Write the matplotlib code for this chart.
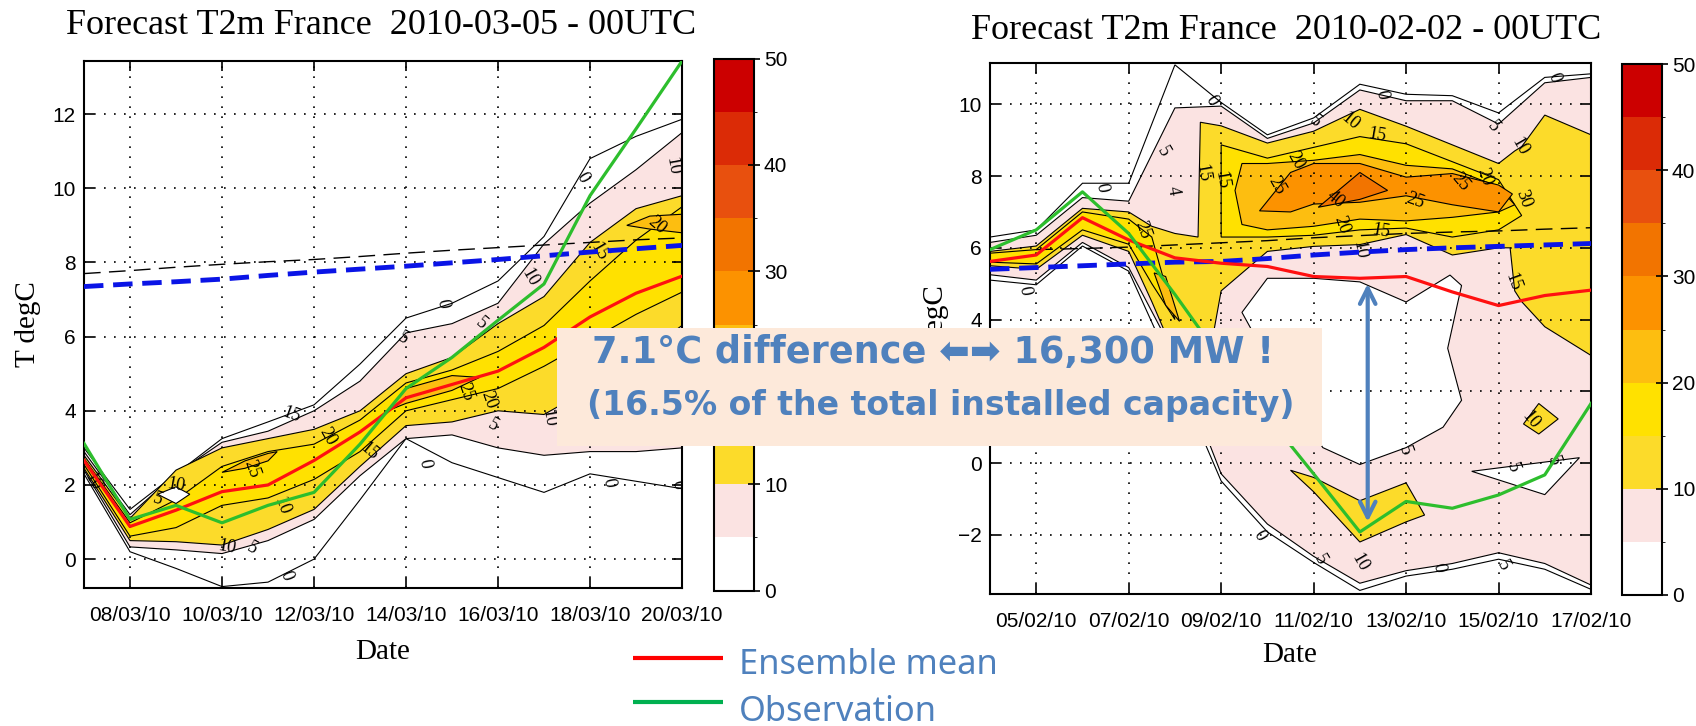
import numpy as np
import matplotlib
matplotlib.use("Agg")
import matplotlib.pyplot as plt
from matplotlib.colors import ListedColormap, BoundaryNorm
from matplotlib.lines import Line2D
from matplotlib.patches import Rectangle
from matplotlib.transforms import Bbox
import matplotlib as mpl

# ---------------- data: left panel (March 2010, day of month) ----------------
L_days = [7, 8, 9, 10, 11, 12, 13, 14, 15, 16, 17, 18, 19, 20]
L_mean = [2.66, 0.88, 1.32, 1.82, 2.0, 2.66, 3.43, 4.35, 4.71, 5.07, 5.71, 6.53, 7.17, 7.63]
L_obs = [3.12, 1.07, 1.45, 0.98, 1.45, 1.8, 3.1, 4.6, 5.44, 6.44, 7.42, 9.8, 11.6, 13.43]
L_clim = [7.35, 7.42, 7.48, 7.55, 7.65, 7.74, 7.82, 7.9, 7.99, 8.08, 8.18, 8.28, 8.37, 8.46]
L_clim2 = [7.7, 7.78, 7.87, 7.95, 8.02, 8.08, 8.16, 8.25, 8.33, 8.4, 8.47, 8.54, 8.61, 8.66]

L_p0_lo = [2.3, 0.2, -0.25, -0.74, -0.62, 0.0, 1.6, 3.25, 2.6, 2.2, 1.8, 2.3, 2.1, 1.9]
L_p0_hi = [3.0, 1.34, 2.3, 3.25, 3.7, 4.16, 5.26, 6.5, 6.9, 7.5, 8.7, 10.8, 11.4, 11.86]
L_p5_lo = [2.4, 0.33, 0.25, 0.15, 0.5, 1.07, 2.25, 3.25, 3.35, 3.0, 2.8, 2.9, 2.9, 3.0]
L_p5_hi = [2.9, 1.2, 2.3, 3.15, 3.45, 4.0, 4.8, 6.1, 6.35, 6.9, 8.5, 9.6, 10.5, 11.5]
L_p10_lo = [2.45, 0.5, 0.47, 0.38, 0.8, 1.34, 2.5, 3.6, 3.7, 4.0, 3.9, 4.6, 5.4, 6.3]
L_p10_hi = [2.8, 1.1, 2.4, 3.0, 3.25, 3.5, 4.0, 5.0, 5.44, 6.35, 7.08, 8.54, 9.45, 9.8]
L_p15_lo = [2.55, 0.62, 0.85, 1.45, 1.65, 2.15, 2.9, 4.0, 4.3, 4.6, 5.2, 5.9, 6.6, 7.2]
L_p15_hi = [2.72, 0.98, 1.6, 2.5, 2.9, 3.1, 3.75, 4.75, 5.1, 5.6, 6.3, 7.5, 8.6, 9.5]
L_p20a_days = [10.0, 10.5, 11.0, 11.2]
L_p20a_lo = [2.34, 2.45, 2.65, 2.9]
L_p20a_hi = [2.34, 2.65, 2.85, 2.9]
L_p20b_days = [13.6, 14.0, 15.0, 15.6]
L_p20b_lo = [4.0, 4.2, 4.55, 4.9]
L_p20b_hi = [4.0, 4.6, 4.95, 4.9]
L_p20c_days = [18.8, 19.3, 20.0]
L_p20c_lo = [9.0, 8.9, 8.8]
L_p20c_hi = [9.0, 9.25, 9.3]
L_hole_x = [8.6, 9.0, 9.3, 9.0]
L_hole_y = [1.75, 1.95, 1.75, 1.5]

L_lab_x = [14.8, 17.83, 11.4, 14.4, 18.4, 19.9, 13.93, 15.64, 15.9, 9.0, 10.1, 11.3, 17.1,
           16.7, 11.5, 15.3, 18.2, 19.8, 19.45, 10.65, 10.65, 8.6, 12.3, 13.2, 15.8, 7.2]
L_lab_y = [6.9, 10.3, -0.44, 2.57, 2.07, 2.0, 5.94, 6.35, 3.6, 2.0, 0.33, 1.43, 3.8,
           7.6, 3.9, 4.5, 8.3, 10.6, 9.0, 2.43, 0.3, 1.6, 3.3, 2.9, 4.3, 2.1]
L_lab_t = ["0", "0", "0", "0", "0", "0", "5", "5", "5", "10", "10", "10", "10",
           "10", "15", "25", "15", "10", "20", "25", "5", "5", "20", "15", "20", "10"]
L_lab_r = [-80, -60, -70, -80, -80, -80, -30, -40, -30, -10, -10, -70, -80,
           -60, -20, -70, -60, -80, -40, -70, -30, -20, -60, -40, -70, -60]

# ---------------- data: right panel (February 2010, day of month) ----------------
R_days = [4, 5, 6, 7, 8, 9, 10, 11, 12, 13, 14, 15, 16, 17]
R_mean = [5.62, 5.8, 6.84, 6.22, 5.72, 5.57, 5.48, 5.2, 5.15, 5.2, 4.77, 4.39, 4.67, 4.82]
R_obs = [5.95, 6.5, 7.56, 6.4, 4.7, 2.9, 1.3, -0.3, -1.92, -1.07, -1.26, -0.89, -0.33, 1.66]
R_clim = [5.4, 5.45, 5.5, 5.55, 5.6, 5.62, 5.7, 5.8, 5.88, 5.95, 6.0, 6.04, 6.08, 6.12]
R_clim2 = [np.nan, 5.95, 5.98, 6.02, 6.08, 6.14, 6.2, 6.28, 6.34, 6.4, 6.44, 6.47, 6.52, 6.56]

R_p0_lo = [5.1, 4.97, 6.05, 5.35, 2.5, -0.5, -1.92, -2.77, -3.55, -3.15, -2.96, -2.68, -2.96, -3.52]
R_p0_hi = [6.3, 6.5, 7.8, 7.8, 11.1, 10.05, 9.15, 9.62, 10.56, 10.28, 10.24, 9.76, 10.75, 10.85]
R_p5_lo = [5.25, 5.1, 6.15, 5.45, 3.0, -0.3, -1.7, -2.6, -3.35, -3.0, -2.8, -2.5, -2.8, -3.4]
R_p5_hi = [6.15, 6.35, 7.4, 7.3, 9.9, 9.95, 9.05, 9.48, 10.4, 10.1, 10.1, 9.45, 10.6, 10.75]
R_p10_days = [4, 5, 6, 7, 7.5, 8, 8.5, 8.55, 9, 10, 11, 12, 13, 14, 15, 15.25, 15.35, 15.5, 16, 17]
R_p10_lo = [5.5, 5.4, 6.35, 5.9, 4.5, 3.0, 1.5, 1.6, 4.8, 5.9, 6.04, 6.09, 6.37, 5.8, 6.0, 6.0, 4.8, 4.5, 3.8, 3.0]
R_p10_hi = [5.9, 6.05, 7.1, 7.0, 6.6, 6.4, 6.3, 9.5, 9.4, 8.92, 9.25, 9.86, 9.39, 8.87, 8.35, 8.6, 8.7, 8.82, 9.7, 9.15]
R_p15a_days = [4, 5, 6, 7, 7.5, 8]
R_p15a_lo = [5.6, 5.55, 6.5, 6.1, 5.0, 4.0]
R_p15a_hi = [5.85, 5.95, 7.0, 6.8, 6.3, 4.0]
R_p15b_days = [9, 10, 11, 12, 13, 14, 15, 15.5]
R_p15b_lo = [6.3, 6.3, 6.35, 6.5, 6.55, 6.3, 6.5, 6.9]
R_p15b_hi = [8.87, 8.5, 8.8, 9.1, 8.9, 8.4, 7.9, 6.9]
R_p20a_days = [9.3, 9.45, 10, 11, 12, 13, 14, 15, 15.35]
R_p20a_lo = [7.6, 6.65, 6.5, 6.6, 6.8, 6.75, 6.85, 7.0, 7.2]
R_p20a_hi = [7.6, 8.35, 8.35, 8.44, 8.6, 8.3, 8.2, 7.7, 7.2]
R_p20b_days = [7.55, 7.8, 8.1]
R_p20b_lo = [5.3, 4.4, 3.95]
R_p20b_hi = [5.3, 5.2, 3.95]
R_p25_days = [9.83, 10.5, 11, 12, 13, 14, 15, 15.3]
R_p25_lo = [7.03, 7.0, 7.22, 7.27, 7.45, 7.2, 7.0, 7.5]
R_p25_hi = [7.03, 8.1, 8.35, 8.35, 7.97, 8.07, 7.75, 7.5]
R_p30_days = [11.1, 12, 12.6]
R_p30_lo = [7.13, 7.35, 7.6]
R_p30_hi = [7.13, 8.1, 7.6]
R_py_days = [10.5, 11, 12, 13, 13.4]
R_py_lo = [-0.2, -0.8, -2.2, -1.64, -1.45]
R_py_hi = [-0.2, -0.4, -1.05, -0.55, -1.45]
R_pd_days = [15.54, 15.87, 16.29]
R_pd_lo = [1.09, 0.81, 1.23]
R_pd_hi = [1.09, 1.66, 1.23]
R_hole_x = [9.45, 10.0, 11.0, 12.0, 13.0, 13.95, 14.2, 13.9, 14.2, 13.8, 13.0, 12.0, 11.2, 10.5]
R_hole_y = [4.2, 5.15, 5.15, 5.05, 4.49, 5.24, 4.95, 3.2, 1.75, 1.0, 0.43, -0.04, 0.43, 1.75]
R_tri_x = [14.42, 16.0, 16.75]
R_tri_y = [-0.23, -0.88, 0.15]

R_lab_x = [8.79, 12.46, 16.2, 6.42, 4.75, 9.83, 13.71, 7.75, 11.04, 14.88, 11.13, 12.96, 15.3,
           16.2, 15.1, 11.8, 15.46, 12.0, 15.7, 12.0, 12.37, 12.46, 8.6, 15.3, 10.6, 11.6,
           14.7, 10.2, 13.2, 14.17, 15.54, 11.46, 7.96, 9.0, 7.3]
R_lab_y = [10.09, 10.28, 10.75, 7.69, 4.82, -2.02, -2.91, 8.68, 9.53, 9.39, -2.68, 0.34, -0.13,
           0.06, -2.87, 9.53, 8.82, -2.77, 1.19, 5.95, 9.15, 6.47, 8.07, 5.05, 8.44, 6.65,
           7.97, 7.74, 7.31, 7.83, 7.36, 7.36, 7.6, 7.9, 6.5]
R_lab_t = ["0", "0", "0", "0", "0", "0", "0", "5", "5", "5", "5", "5", "5",
           "5", "5", "10", "10", "10", "10", "10", "15", "15", "15", "15", "20", "20",
           "20", "25", "25", "25", "30", "40", "4", "15", "25"]
R_lab_r = [-60, -80, -70, -80, -80, -60, -80, -60, -40, -50, -60, -70, -70,
           -70, -60, -40, -60, -60, -50, -80, -10, -10, -80, -70, -60, -70,
           -70, -60, -20, -50, -70, -40, -80, -80, -70]

# ---------------- colour scale ----------------
cb_levels = [0, 5, 10, 15, 20, 25, 30, 35, 40, 45, 50]
cb_colors = ["#FFFFFF", "#FBE3E2", "#FCDB2A", "#FFE100", "#FDBE10", "#FC9200",
             "#F27400", "#E8500E", "#DB2B06", "#CC0000"]
cb_ticks = [0, 10, 20, 30, 40, 50]

L_xticks = [8, 10, 12, 14, 16, 18, 20]
L_xlabels = ["08/03/10", "10/03/10", "12/03/10", "14/03/10", "16/03/10", "18/03/10", "20/03/10"]
L_yticks = [0, 2, 4, 6, 8, 10, 12]
R_xticks = [5, 7, 9, 11, 13, 15, 17]
R_xlabels = ["05/02/10", "07/02/10", "09/02/10", "11/02/10", "13/02/10", "15/02/10", "17/02/10"]
R_yticks = [-2, 0, 2, 4, 6, 8, 10]

# ---------------- figure ----------------
W, H = 1696, 726
fig = plt.figure(figsize=(W / 100, H / 100), dpi=100)


def fx(px):
    return px / W


def fy(py):
    return 1 - py / H


axL = fig.add_axes([fx(84), fy(587.7), (682 - 84) / W, (587.7 - 60.7) / H])
cbL = fig.add_axes([fx(714), fy(590.5), 39.5 / W, (590.5 - 58.5) / H])
axR = fig.add_axes([fx(990), fy(594), (1591 - 990) / W, (594 - 62.7) / H])
cbR = fig.add_axes([fx(1622), fy(595), 39.5 / W, (595 - 64) / H])

col = dict(zip(cb_levels[:-1], cb_colors))
SERIF = "Liberation Serif"
SANS = "Liberation Sans"


def band(ax, days, lo, hi, color):
    d = np.asarray(days, float)
    xs = np.concatenate([d, d[::-1]])
    ys = np.concatenate([np.asarray(lo, float), np.asarray(hi, float)[::-1]])
    ax.fill(xs, ys, facecolor=color, edgecolor="black", linewidth=0.8, zorder=1)


def poly(ax, xs, ys, color):
    ax.fill(xs, ys, facecolor=color, edgecolor="black", linewidth=0.8, zorder=1.1)


# left panel
band(axL, L_days, L_p0_lo, L_p0_hi, col[0])
band(axL, L_days, L_p5_lo, L_p5_hi, col[5])
band(axL, L_days, L_p10_lo, L_p10_hi, col[10])
band(axL, L_days, L_p15_lo, L_p15_hi, col[15])
band(axL, L_p20a_days, L_p20a_lo, L_p20a_hi, col[20])
band(axL, L_p20b_days, L_p20b_lo, L_p20b_hi, col[20])
band(axL, L_p20c_days, L_p20c_lo, L_p20c_hi, col[20])
poly(axL, L_hole_x, L_hole_y, col[0])

# right panel
band(axR, R_days, R_p0_lo, R_p0_hi, col[0])
band(axR, R_days, R_p5_lo, R_p5_hi, col[5])
band(axR, R_p10_days, R_p10_lo, R_p10_hi, col[10])
band(axR, R_p15a_days, R_p15a_lo, R_p15a_hi, col[15])
band(axR, R_p15b_days, R_p15b_lo, R_p15b_hi, col[15])
band(axR, R_p20a_days, R_p20a_lo, R_p20a_hi, col[20])
band(axR, R_p20b_days, R_p20b_lo, R_p20b_hi, col[20])
band(axR, R_p25_days, R_p25_lo, R_p25_hi, col[25])
band(axR, R_p30_days, R_p30_lo, R_p30_hi, col[30])
band(axR, R_py_days, R_py_lo, R_py_hi, col[10])
band(axR, R_pd_days, R_pd_lo, R_pd_hi, col[10])
poly(axR, R_hole_x, R_hole_y, col[0])
poly(axR, R_tri_x, R_tri_y, col[0])

for ax, lx, ly, lt, lr in ((axL, L_lab_x, L_lab_y, L_lab_t, L_lab_r),
                           (axR, R_lab_x, R_lab_y, R_lab_t, R_lab_r)):
    for x, y, t, r in zip(lx, ly, lt, lr):
        ax.text(x, y, t, fontsize=13, family=SERIF, rotation=r, ha="center",
                va="center", zorder=2, clip_on=True)

for ax, d, clim, clim2, mean, obs in ((axL, L_days, L_clim, L_clim2, L_mean, L_obs),
                                      (axR, R_days, R_clim, R_clim2, R_mean, R_obs)):
    ax.plot(d, clim2, color="black", lw=1.0, dashes=(12, 6), zorder=3)
    ax.plot(d, clim, color="#0A14E6", lw=3.5, dashes=(4, 2), zorder=3)
    ax.plot(d, mean, color="#FF1010", lw=2.3, zorder=4)
    ax.plot(d, obs, color="#2DBE2D", lw=2.3, zorder=4)

axL.set_xlim(7, 20)
axL.set_ylim(-0.77, 13.44)
axR.set_xlim(4, 17)
axR.set_ylim(-3.65, 11.16)
axL.set_xticks(L_xticks, L_xlabels)
axL.set_yticks(L_yticks)
axR.set_xticks(R_xticks, R_xlabels)
axR.set_yticks(R_yticks)

for ax in (axL, axR):
    ax.set_axisbelow(False)
    ax.grid(True, color="black", linestyle=(0, (1, 5)), linewidth=1.2)
    ax.tick_params(direction="in", length=7, width=1.2, top=True, right=True,
                   labelsize=15)
    ax.tick_params(axis="x", pad=13)
    ax.tick_params(axis="y", pad=6)
    for lab in ax.get_xticklabels() + ax.get_yticklabels():
        lab.set_family(SANS)
    for s in ax.spines.values():
        s.set_linewidth(1.5)

# colour bars
cmap = ListedColormap(cb_colors)
norm = BoundaryNorm(cb_levels, cmap.N)
for cax in (cbL, cbR):
    cb = mpl.colorbar.ColorbarBase(cax, cmap=cmap, norm=norm, boundaries=cb_levels,
                                   ticks=cb_ticks, orientation="vertical")
    cb.outline.set_linewidth(1.5)
    cax.tick_params(direction="inout", length=9, width=1.2, labelsize=15, pad=3)
    for lab in cax.get_yticklabels():
        lab.set_family(SANS)

# titles and axis labels
fig.text(fx(381), fy(34), "Forecast T2m France  2010-03-05 - 00UTC", family=SERIF,
         fontsize=26, ha="center", va="baseline")
fig.text(fx(1286), fy(39), "Forecast T2m France  2010-02-02 - 00UTC", family=SERIF,
         fontsize=26, ha="center", va="baseline")
fig.text(fx(383), fy(652), "Date", family=SERIF, fontsize=21, ha="center", va="center")
fig.text(fx(1290), fy(655), "Date", family=SERIF, fontsize=21, ha="center", va="center")
fig.text(fx(28), fy(324), "T degC", family=SERIF, fontsize=21, rotation=90,
         ha="center", va="center")
ylab_r = fig.text(fx(936), fy(328), "T degC", family=SERIF, fontsize=21, rotation=90,
                  ha="center", va="center")
# the right-hand label is partly hidden by the annotation box
ylab_r.set_clip_box(Bbox.from_extents(900, H - 328, 980, H))
ylab_r.set_clip_on(True)

# double arrow on the right panel
BLUE_TXT = "#4F81BD"
axR.annotate("", xy=(12.17, -1.64), xytext=(12.17, 5.0),
             arrowprops=dict(arrowstyle="<->", color=BLUE_TXT, lw=3,
                             mutation_scale=28, shrinkA=0, shrinkB=0), zorder=6)

# annotation box
fig.add_artist(Rectangle((fx(557), fy(446)), (1322 - 557) / W, (446 - 328) / H,
                         transform=fig.transFigure, facecolor="#FDE9DA",
                         edgecolor="none", zorder=10))
BOXFONT = ["DejaVu Sans"]
t1 = fig.text(fx(933), fy(363), "7.1°C difference ⬅➡ 16,300 MW !", family=BOXFONT,
              fontweight="bold", fontsize=24, color=BLUE_TXT, ha="center",
              va="baseline", zorder=11)
t2 = fig.text(fx(941), fy(415), "(16.5% of the total installed capacity)", family=BOXFONT,
              fontweight="bold", fontsize=24, color=BLUE_TXT, ha="center",
              va="baseline", zorder=11)

# legend
fig.add_artist(Line2D([fx(633), fx(723)], [fy(657.7), fy(657.7)], transform=fig.transFigure,
                      color="#FF0000", lw=3, solid_capstyle="butt"))
fig.add_artist(Line2D([fx(633), fx(723)], [fy(702.3), fy(702.3)], transform=fig.transFigure,
                      color="#00B050", lw=3, solid_capstyle="butt"))
t3 = fig.text(fx(739), fy(674), "Ensemble mean", family="Noto Sans", fontsize=24,
              color=BLUE_TXT, ha="left", va="baseline")
t4 = fig.text(fx(739), fy(721), "Observation", family="Noto Sans", fontsize=24,
              color=BLUE_TXT, ha="left", va="baseline")

# fit text widths to the reference
fig.canvas.draw()
r = fig.canvas.get_renderer()
for t, target in ((t1, 681), (t2, 710), (t3, 260)):
    w = t.get_window_extent(r).width
    t.set_fontsize(t.get_fontsize() * target / w)
t4.set_fontsize(t3.get_fontsize())

fig.savefig("out.png", dpi=100)
